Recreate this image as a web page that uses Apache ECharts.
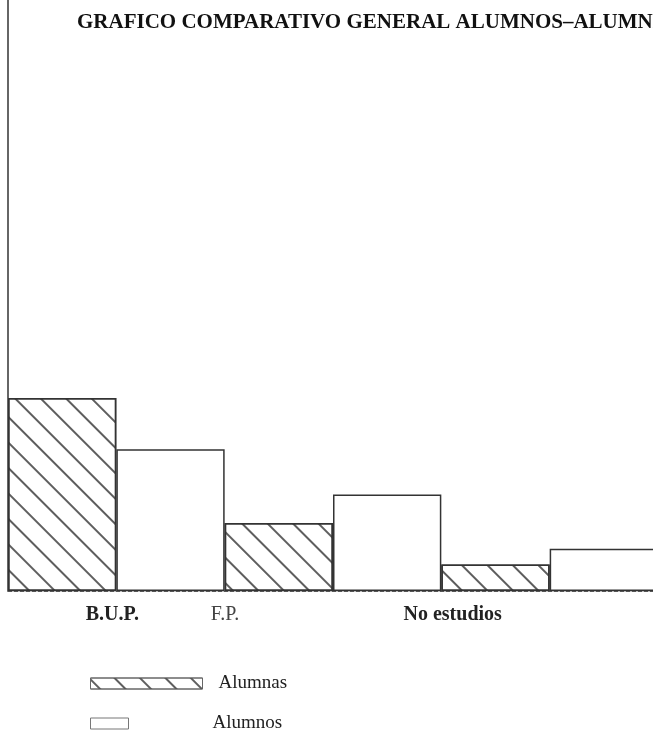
<!DOCTYPE html>
<html><head><meta charset="utf-8">
<script src="https://cdn.jsdelivr.net/npm/echarts@6/dist/echarts.min.js"></script>
<style>html,body{margin:0;padding:0;background:#fff}#c{width:653px;height:741px}</style>
</head><body><div id="c"></div>
<script>
const titleText = 'GRAFICO COMPARATIVO GENERAL ALUMNOS–ALUMNAS';
const categories = ['B.U.P.', 'F.P.', 'No estudios'];
const alumnas = [98, 34.5, 13.5];
const alumnos = [72, 49, 21.5];
const seriesNames = ['Alumnas', 'Alumnos'];

const chart = echarts.init(document.getElementById('c'), null, {renderer: 'canvas'});
const font = '"Liberation Serif", "DejaVu Serif", serif';
const hatch = {
  symbol: 'rect', symbolSize: 1, color: 'rgba(40,40,40,0.75)',
  dashArrayX: [1, 0], dashArrayY: [1.2, 16], rotation: Math.PI / 4
};
const legendText = {fontFamily: font, fontSize: 19, color: '#222'};
chart.setOption({
  animation: false,
  backgroundColor: '#fff',
  title: {
    text: titleText, left: 72, top: 7,
    textStyle: {fontFamily: font, fontSize: 21, fontWeight: 'bold', color: '#111'}
  },
  legend: [
    {
      orient: 'vertical', left: 85, top: 669, itemWidth: 112, itemHeight: 11,
      data: [{name: seriesNames[0], icon: 'rect'}],
      itemStyle: {borderColor: '#666', borderWidth: 1},
      textStyle: Object.assign({padding: [0, 0, 0, 11]}, legendText)
    },
    {
      orient: 'vertical', left: 85, top: 709, itemWidth: 38, itemHeight: 11,
      data: [{name: seriesNames[1], icon: 'rect'}],
      itemStyle: {borderColor: '#777', borderWidth: 1},
      textStyle: Object.assign({padding: [0, 0, 0, 79]}, legendText)
    }
  ],
  grid: {left: 8, width: 650, top: 0, bottom: 150, outerBoundsMode: 'none', containLabel: false},
  xAxis: {
    type: 'category', data: categories,
    axisLine: {lineStyle: {color: '#555', width: 1, type: 'dashed'}},
    axisTick: {show: false},
    axisLabel: {
      margin: 14, interval: 0,
      formatter: function (v, i) { return ['{a|' + v + '}', '{b|' + v + '}', '{c|' + v + '}'][i]; },
      rich: {
        a: {fontFamily: font, fontSize: 20, fontWeight: 'bold', color: '#222', padding: [0, 8, 0, 0]},
        b: {fontFamily: font, fontSize: 20, color: '#444', padding: [0, 216, 0, 0]},
        c: {fontFamily: font, fontSize: 20, fontWeight: 'bold', color: '#222', padding: [0, 194, 0, 0]}
      }
    }
  },
  yAxis: {
    type: 'value', min: 0, max: 300,
    axisLine: {show: true, lineStyle: {color: '#333', width: 1.5}},
    axisTick: {show: false}, axisLabel: {show: false}, splitLine: {show: false}
  },
  series: [
    {
      name: seriesNames[0], type: 'bar', data: alumnas, barGap: 0, barCategoryGap: 0,
      itemStyle: {color: '#fff', borderColor: '#333', borderWidth: 1.5, decal: hatch}
    },
    {
      name: seriesNames[1], type: 'bar', data: alumnos,
      itemStyle: {color: '#fff', borderColor: '#333', borderWidth: 1.5}
    }
  ]
});
</script></body></html>
